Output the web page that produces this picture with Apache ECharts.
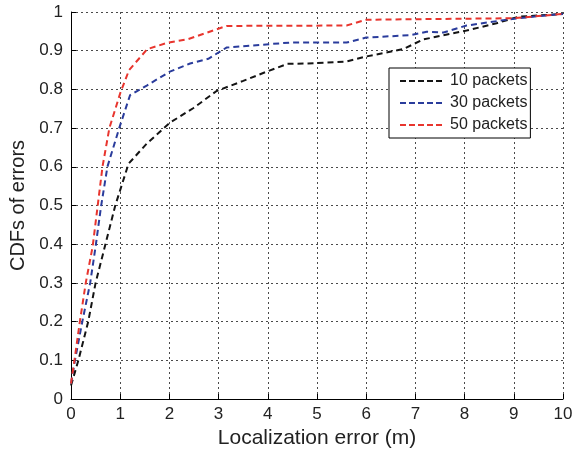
<!DOCTYPE html>
<html>
<head>
<meta charset="utf-8">
<script src="https://cdn.jsdelivr.net/npm/echarts@6/dist/echarts.min.js"></script>
<style>
  html, body { margin: 0; padding: 0; background: #fff; }
  #chart { width: 581px; height: 460px; }
</style>
</head>
<body>
<div id="chart"></div>
<script>
// Localization error (m) sample points and CDF values for each packet count
const errX10 = [0, 0.15, 0.35, 0.5, 0.7, 0.9, 1.17, 1.54, 2.01, 2.49, 2.96, 3.5, 3.98, 4.4, 4.82, 5.6, 6.0, 6.75, 7.16, 7.57, 8.04, 8.65, 9.1, 10];
const cdf10  = [0.035, 0.1, 0.2, 0.3, 0.4, 0.5, 0.608, 0.66, 0.714, 0.752, 0.796, 0.822, 0.846, 0.866, 0.867, 0.872, 0.885, 0.904, 0.929, 0.94, 0.952, 0.971, 0.988, 0.995];

const errX30 = [0, 0.08, 0.23, 0.39, 0.5, 0.61, 0.74, 0.98, 1.2, 1.54, 2.01, 2.42, 2.79, 3.16, 3.84, 4.45, 5.6, 6.0, 6.89, 7.23, 7.57, 8.04, 8.79, 9.39, 10];
const cdf30  = [0.04, 0.1, 0.2, 0.3, 0.394, 0.497, 0.6, 0.70, 0.785, 0.81, 0.846, 0.867, 0.879, 0.908, 0.915, 0.921, 0.921, 0.934, 0.94, 0.949, 0.947, 0.965, 0.979, 0.988, 0.995];

const errX50 = [0, 0.07, 0.18, 0.3, 0.44, 0.54, 0.64, 0.78, 1.0, 1.18, 1.55, 1.95, 2.38, 3.16, 5.6, 6.0, 9.0, 10];
const cdf50  = [0.04, 0.1, 0.2, 0.3, 0.394, 0.497, 0.6, 0.70, 0.79, 0.85, 0.904, 0.92, 0.93, 0.964, 0.965, 0.98, 0.984, 0.995];

const seriesNames = ['10 packets', '30 packets', '50 packets'];
const xTicks = [0, 1, 2, 3, 4, 5, 6, 7, 8, 9, 10];
const yTicks = [0, 0.1, 0.2, 0.3, 0.4, 0.5, 0.6, 0.7, 0.8, 0.9, 1];

const FONT = '"Liberation Sans", Arial, Helvetica, sans-serif';
const colors = ['#141414', '#2a3c9c', '#e8352e'];

function pairs(xs, ys) { return xs.map((x, i) => [x, ys[i]]); }

const chart = echarts.init(document.getElementById('chart'), null, { renderer: 'canvas' });

const gridLine = { show: true, lineStyle: { color: '#4a4a4a', width: 1, type: [2, 3] } };

function makeLine(name, xs, ys, color) {
  return {
    name: name,
    type: 'line',
    data: pairs(xs, ys),
    symbol: 'none',
    smooth: false,
    lineStyle: { color: color, width: 2, type: [6, 4] },
    itemStyle: { color: color },
    z: 3
  };
}

chart.setOption({
  animation: false,
  backgroundColor: '#fff',
  textStyle: { fontFamily: FONT },
  grid: { left: 71, right: 18, top: 12, bottom: 61, containLabel: false },
  xAxis: {
    type: 'value',
    min: xTicks[0], max: xTicks[xTicks.length - 1], interval: 1,
    name: 'Localization error (m)',
    nameLocation: 'middle',
    nameGap: 29,
    nameTextStyle: { fontSize: 21, color: '#222', fontFamily: FONT },
    axisLine: { show: true, onZero: false, lineStyle: { color: '#000', width: 1 } },
    axisTick: { show: true, inside: true, length: 5, lineStyle: { color: '#000' } },
    axisLabel: { fontSize: 17, color: '#222', margin: 7, fontFamily: FONT },
    splitLine: gridLine
  },
  yAxis: {
    type: 'value',
    min: yTicks[0], max: yTicks[yTicks.length - 1], interval: 0.1,
    name: 'CDFs of errors',
    nameLocation: 'middle',
    nameGap: 43,
    nameRotate: 90,
    nameTextStyle: { fontSize: 20, color: '#222', fontFamily: FONT },
    axisLine: { show: true, onZero: false, lineStyle: { color: '#000', width: 1 } },
    axisTick: { show: true, inside: true, length: 5, lineStyle: { color: '#000' } },
    axisLabel: {
      fontSize: 17, color: '#222', margin: 8, fontFamily: FONT,
      formatter: v => String(+v.toFixed(1))
    },
    splitLine: gridLine
  },
  legend: {
    show: true,
    orient: 'vertical',
    left: 389,
    top: 68,
    data: seriesNames,
    backgroundColor: '#fff',
    borderColor: '#000',
    borderWidth: 1,
    borderRadius: 0,
    padding: [5, 3, 5, 10],
    itemWidth: 43,
    itemHeight: 14,
    itemGap: 6,
    itemStyle: { opacity: 0 },
    lineStyle: { type: [6, 3] },
    textStyle: { fontSize: 16, color: '#222', fontFamily: FONT, padding: [0, 0, 0, 2] }
  },
  series: [
    makeLine(seriesNames[0], errX10, cdf10, colors[0]),
    makeLine(seriesNames[1], errX30, cdf30, colors[1]),
    makeLine(seriesNames[2], errX50, cdf50, colors[2])
  ]
});
</script>
</body>
</html>
